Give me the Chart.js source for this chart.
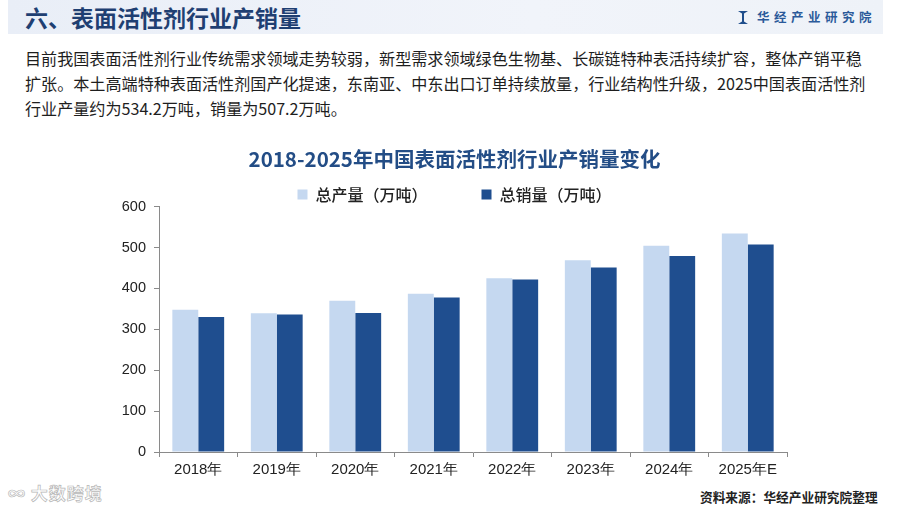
<!DOCTYPE html>
<html>
<head>
<meta charset="utf-8">
<script src="https://cdn.jsdelivr.net/npm/chart.js@4.4.1/dist/chart.umd.min.js"></script>
<style>
  html, body { margin:0; padding:0; background:#ffffff; width:900px; height:510px; overflow:hidden; }
  body { position:relative; font-family:"Noto Sans CJK SC","Noto Sans",sans-serif; }
  .band { position:absolute; left:8px; top:0; width:875px; height:34px;
          background:linear-gradient(90deg,#e9eef7 0%,#f1f4fa 60%,#eef2f8 100%); }
  .head { position:absolute; left:25px; top:1px; font-size:23px; font-weight:bold; color:#1f3f72; line-height:32px; }
  .logo { position:absolute; left:738px; top:9px; font-size:12.5px; font-weight:bold; color:#2b5a9a; letter-spacing:4.5px; line-height:16px; }
  .logo .ic { display:inline-block; width:10px; height:13px; background:#1f4e8c; margin-right:9px; vertical-align:-2px;
              clip-path:polygon(0 0,40% 20%,40% 80%,0 100%,100% 100%,60% 80%,60% 20%,100% 0); }
  .para { position:absolute; left:25px; top:46px; font-size:16.1px; color:#1e1e1e; line-height:25px; white-space:nowrap; }
  .src { position:absolute; left:700px; top:487px; font-size:12.7px; font-weight:bold; color:#222; white-space:nowrap; }
  .wm { position:absolute; left:8px; top:480px; font-size:17px; color:#fff; -webkit-text-stroke:0.7px #b8b8b8; font-weight:bold; letter-spacing:1px; }
  #wrap { position:absolute; left:0; top:140px; width:900px; height:350px; }
</style>
</head>
<body>
<div class="band"></div>
<div class="head">六、表面活性剂行业产销量</div>
<div class="logo"><span class="ic"></span>华经产业研究院</div>
<div class="para">目前我国表面活性剂行业传统需求领域走势较弱，新型需求领域绿色生物基、长碳链特种表活持续扩容，整体产销平稳<br>扩张。本土高端特种表面活性剂国产化提速，东南亚、中东出口订单持续放量，行业结构性升级，2025中国表面活性剂<br>行业产量约为534.2万吨，销量为507.2万吨。</div>
<div class="src">资料来源：华经产业研究院整理</div>
<div class="wm">∞ 大数跨境</div>
<div id="wrap"><canvas id="c"></canvas></div>
<script>
const categories = ["2018年","2019年","2020年","2021年","2022年","2023年","2024年","2025年E"];
const production = [348, 339, 370, 387, 425, 469, 504, 534.2];
const sales = [330, 336, 340, 378, 422, 451, 479, 507.2];
const yTicks = [0, 100, 200, 300, 400, 500, 600];
const chartTitle = "2018-2025年中国表面活性剂行业产销量变化";
const seriesNames = ["总产量（万吨）", "总销量（万吨）"];

const chart = new Chart(document.getElementById('c'), {
  type: 'bar',
  data: {
    labels: categories,
    datasets: [
      { label: seriesNames[0], data: production, backgroundColor: '#c5d8f0', borderWidth: 0,
        categoryPercentage: 0.66, barPercentage: 1.0 },
      { label: seriesNames[1], data: sales, backgroundColor: '#1f4e8f', borderWidth: 0,
        categoryPercentage: 0.66, barPercentage: 1.0 }
    ]
  },
  options: {
    responsive: true,
    maintainAspectRatio: false,
    animation: false,
    layout: { padding: { left: 122, right: 113, top: 6, bottom: 7 } },
    plugins: {
      title: { display: true, text: chartTitle, color: '#234d86',
               font: { size: 20.5, weight: 'bold', family: '"Noto Sans CJK SC", sans-serif' },
               padding: { top: 1, bottom: 9 } },
      legend: { display: true, position: 'top',
                labels: { boxWidth: 10, boxHeight: 10, color: '#222', padding: 6,
                          font: { size: 16, weight: '500', family: '"Noto Sans CJK SC", sans-serif' },
                          generateLabels: (c) => {
                            const items = Chart.defaults.plugins.legend.labels.generateLabels(c);
                            items[0].text = items[0].text + '\u2003\u2003\u2003';
                            return items;
                          } } },
      tooltip: { enabled: false }
    },
    scales: {
      x: {
        grid: { display: true, drawOnChartArea: false, drawTicks: true, tickLength: 5, color: '#8a8a8a', offset: true },
        border: { display: true, color: '#8a8a8a', width: 1 },
        ticks: { color: '#222', padding: 4, font: { size: 15, family: '"Liberation Sans", Arial, sans-serif' } }
      },
      y: {
        min: 0, max: 600,
        afterFit: (s) => { s.width = 37; },
        afterBuildTicks: (s) => { s.ticks = yTicks.map(v => ({ value: v })); },
        grid: { display: true, drawOnChartArea: false, drawTicks: true, tickLength: 5, color: '#8a8a8a' },
        border: { display: true, color: '#8a8a8a', width: 1 },
        ticks: { color: '#222', padding: 8, font: { size: 14.5, family: '"Liberation Sans", Arial, sans-serif' } }
      }
    }
  }
});
const origFit = chart.legend.fit;
chart.legend.fit = function () { origFit.call(this); this.height -= 6; };
chart.update();
</script>
</body>
</html>
